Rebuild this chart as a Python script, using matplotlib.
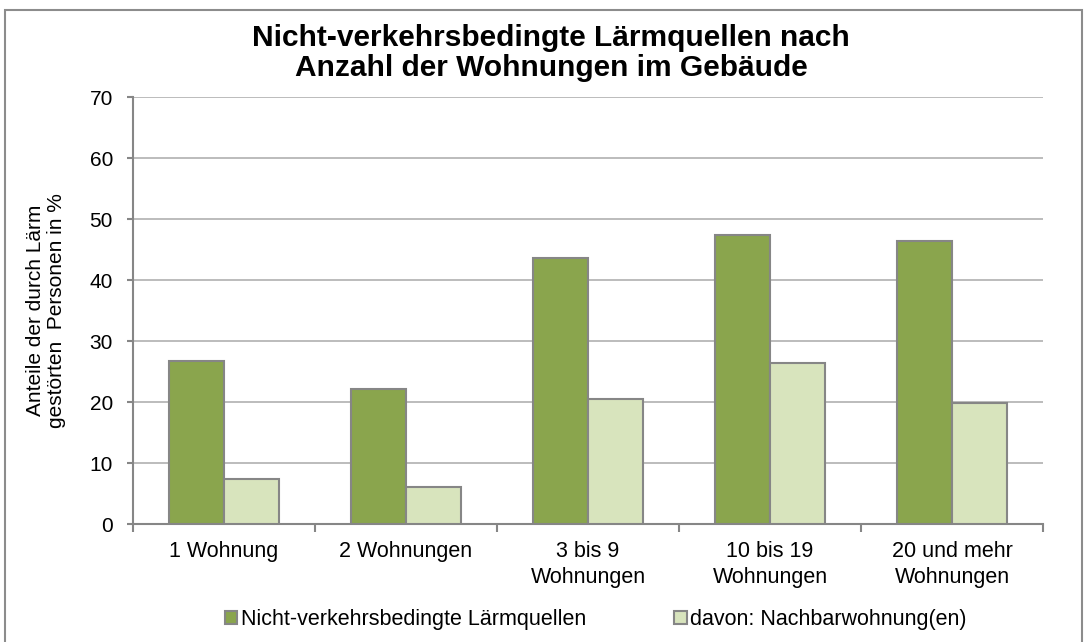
import numpy as np
import matplotlib
matplotlib.use('Agg')
from matplotlib import pyplot as plt
from matplotlib.patches import Rectangle

'''Data'''
categories = ['1 Wohnung', '2 Wohnungen', '3 bis 9\nWohnungen', '10 bis 19\nWohnungen', '20 und mehr\nWohnungen']
laerm_gesamt = [26.8, 22.2, 43.6, 47.4, 46.4]
nachbarwohnung = [7.3, 6.0, 20.5, 26.4, 19.8]
series_names = ['Nicht-verkehrsbedingte Lärmquellen', 'davon: Nachbarwohnung(en)']

plt.rcParams['font.family'] = ['Liberation Sans', 'DejaVu Sans']

fig = plt.figure(figsize=(10.87, 6.42), dpi=100)
ax = fig.add_axes([0.1224, 0.1838, 0.8371, 0.6651])

edge = '#868686'
x = np.arange(len(categories))
w = 0.3
ax.bar(x - w/2, laerm_gesamt, w, color='#8aa54d', edgecolor=edge, linewidth=1.5, label=series_names[0], zorder=3)
ax.bar(x + w/2, nachbarwohnung, w, color='#d8e4bd', edgecolor=edge, linewidth=1.5, label=series_names[1], zorder=3)

ax.set_xlim(-0.5, len(categories) - 0.5)
ax.set_ylim(0, 70)
ax.set_yticks(range(0, 71, 10))
ax.yaxis.grid(True, color='#b0b0b0', linewidth=1.2, zorder=0)
ax.set_xticks(x)
ax.set_xticklabels(categories, fontsize=15.5, linespacing=1.35)
ax.set_xticks(np.arange(-0.5, len(categories)), minor=True)
ax.tick_params(axis='x', which='major', length=0, pad=12)
ax.tick_params(axis='x', which='minor', length=6, width=1.5, color=edge)
ax.tick_params(axis='y', length=4, width=1.5, color=edge, labelsize=15, pad=10.5)
for s in ['top', 'right']:
    ax.spines[s].set_visible(False)
for s in ['left', 'bottom']:
    ax.spines[s].set_color(edge)
    ax.spines[s].set_linewidth(1.5)

ax.set_ylabel('Anteile der durch Lärm\ngestörten  Personen in %', fontsize=15, linespacing=1.1, labelpad=17)

fig.text(0.507, 0.918, 'Nicht-verkehrsbedingte Lärmquellen nach\nAnzahl der Wohnungen im Gebäude',
         ha='center', va='center', fontsize=21.5, fontweight='bold', linespacing=1.1)

leg = fig.legend(loc='center', bbox_to_anchor=(0.548, 0.035), ncol=2, frameon=False, fontsize=15.5,
                 handlelength=0.6, handleheight=0.6, handletextpad=0.15, columnspacing=4.1)

# outer frame of the chart area
fig.patches.append(Rectangle((0.005, -0.05), 0.99, 1.034, transform=fig.transFigure,
                             fill=False, edgecolor='#8c8c8c', linewidth=1.5))

plt.savefig('out.png', dpi=100)
